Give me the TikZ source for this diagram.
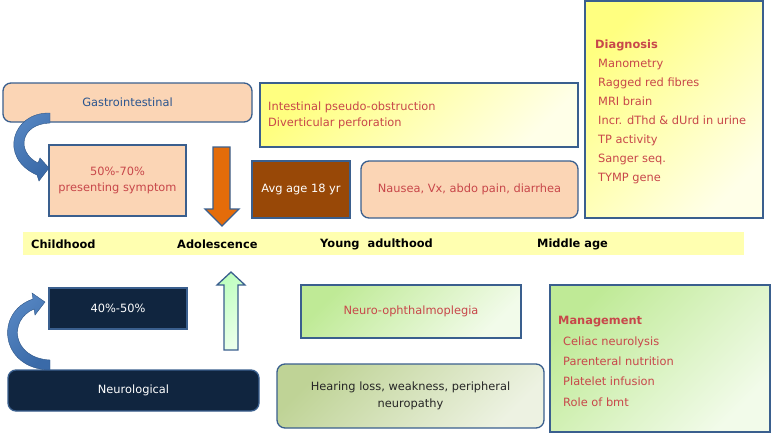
\documentclass[tikz,border=0pt]{standalone}
\usepackage{fontspec}
\setmainfont{DejaVu Sans}
\definecolor{bd}{HTML}{3A5F8E}
\definecolor{peach}{HTML}{FBD5B5}
\definecolor{brownbox}{HTML}{984807}
\definecolor{navy}{HTML}{10253F}
\definecolor{orangearr}{HTML}{E46C0A}
\definecolor{redtxt}{HTML}{C8474A}
\definecolor{bluetxt}{HTML}{2A558F}
\definecolor{yelA}{HTML}{FFFF80}
\definecolor{yelB}{HTML}{FFFFE8}
\definecolor{grnA}{HTML}{BFEA96}
\definecolor{grnB}{HTML}{F2FBEA}
\definecolor{olvA}{HTML}{BFD396}
\definecolor{olvB}{HTML}{EDF2E2}
\definecolor{band}{HTML}{FFFFB0}
\definecolor{arrA}{HTML}{5A8AC6}
\definecolor{arrB}{HTML}{3A6AA8}
\tikzset{
  boxbase/.style={draw=bd, line width=1.3pt, inner sep=0pt},
  peachbox/.style={boxbase, fill=peach},
  yelbox/.style={boxbase, left color=yelA, right color=yelB, shading angle=45},
  grnbox/.style={boxbase, left color=grnA, right color=grnB, shading angle=45},
  olvbox/.style={boxbase, left color=olvA, right color=olvB, shading angle=45},
  rnd/.style={rounded corners=8pt},
  redt/.style={text=redtxt},
  txt/.style={inner sep=0pt},
  tl/.style={txt, anchor=west, font=\fontsize{11.4}{14}\selectfont\bfseries},
  curvarr/.style={draw=arrB!80!black, line width=0.4pt, left color=arrA, right color=arrB, shading angle=45},
  blockarr/.style={draw=bd, line width=1.3pt}
}
\begin{document}
\begin{tikzpicture}[x=1pt,y=-1pt,font=\fontsize{11.4}{16}\selectfont]
\useasboundingbox (0,0) rectangle (771,434);

% timeline band
\node[txt, fill=band, minimum width=721pt, minimum height=23pt] (band) at (383.5,243.5) {};
\node[tl] (child) at (31,244) {Childhood};
\node[tl] (adol) at (177,244) {Adolescence};
\node[tl] (young) at (320,244) {Young\ \ adulthood};
\node[tl] (middle) at (537,244) {Middle age};

% top half
\node[peachbox, rnd, minimum width=249pt, minimum height=39pt, text=bluetxt] (gi) at (127.5,102.5) {Gastrointestinal};
\node[peachbox, minimum width=137pt, minimum height=71pt, redt, align=center] (p5070) at (117.5,180.5) {50\%-70\%\\presenting symptom};
\node[boxbase, fill=brownbox, minimum width=98pt, minimum height=57pt, text=white] (avg) at (301,189.5) {Avg age 18 yr};
\node[yelbox, minimum width=318pt, minimum height=64pt] (intbox) at (419,115) {};
\node[txt, anchor=west, redt, align=left] (inttxt) at (268,115.5) {Intestinal pseudo-obstruction\\Diverticular perforation};
\node[peachbox, rnd, minimum width=217pt, minimum height=57pt, redt] (naus) at (469.5,189.5) {Nausea, Vx, abdo pain, diarrhea};
\node[yelbox, minimum width=178pt, minimum height=217pt] (diagbox) at (674,109.5) {};
\node[txt, anchor=west, redt, align=left, font=\fontsize{11.4}{18.9}\selectfont] (diagtxt) at (595,112) {\textbf{Diagnosis}\\
\hspace*{3pt}Manometry\\
\hspace*{3pt}Ragged red fibres\\
\hspace*{3pt}MRI brain\\
\hspace*{3pt}Incr. dThd \& dUrd in urine\\
\hspace*{3pt}TP activity\\
\hspace*{3pt}Sanger seq.\\
\hspace*{3pt}TYMP gene};

% bottom half
\node[boxbase, fill=navy, minimum width=138pt, minimum height=41pt, text=white] (p4050) at (118,308.5) {40\%-50\%};
\node[boxbase, rnd, fill=navy, minimum width=251pt, minimum height=41pt, text=white] (neuro) at (133.5,390.5) {Neurological};
\node[grnbox, minimum width=220pt, minimum height=53pt, redt] (ophth) at (411,311.5) {Neuro-ophthalmoplegia};
\node[olvbox, rnd, minimum width=267pt, minimum height=64pt, text=black!85, align=center, font=\fontsize{11.4}{17}\selectfont] (hear) at (410.5,396) {Hearing loss, weakness, peripheral\\neuropathy};
\node[grnbox, minimum width=220pt, minimum height=147pt] (mgmtbox) at (660,358.5) {};
\node[txt, anchor=west, redt, align=left, font=\fontsize{11.4}{20.3}\selectfont] (mgmttxt) at (558,361.5) {\textbf{Management}\\
\hspace*{5pt}Celiac neurolysis\\
\hspace*{5pt}Parenteral nutrition\\
\hspace*{5pt}Platelet infusion\\
\hspace*{5pt}Role of bmt};

% block arrows
\draw[blockarr, fill=orangearr] (213,147) -- (230,147) -- (230,209) -- (239,209) -- (222,226) -- (205,209) -- (213,209) -- cycle;
\draw[blockarr, left color=green!25!white, right color=green!8!white, shading angle=45] (224,350) -- (238,350) -- (238,285) -- (245,285) -- (231,272) -- (217,285) -- (224,285) -- cycle;

% curved arrows
\path[curvarr] (50,113) .. controls (12,112) and (-2,158) .. (37,175) -- (39,181) -- (49,168) -- (40,158) -- (38,163) .. controls (16,152) and (20,124) .. (50,123) -- cycle;
\path[curvarr] (50,370) .. controls (0,369) and (-6,312) .. (33,299) -- (32,293) -- (45,302) -- (35,315) -- (34,309) .. controls (8,320) and (12,358) .. (50,360) -- cycle;
\end{tikzpicture}
\end{document}
